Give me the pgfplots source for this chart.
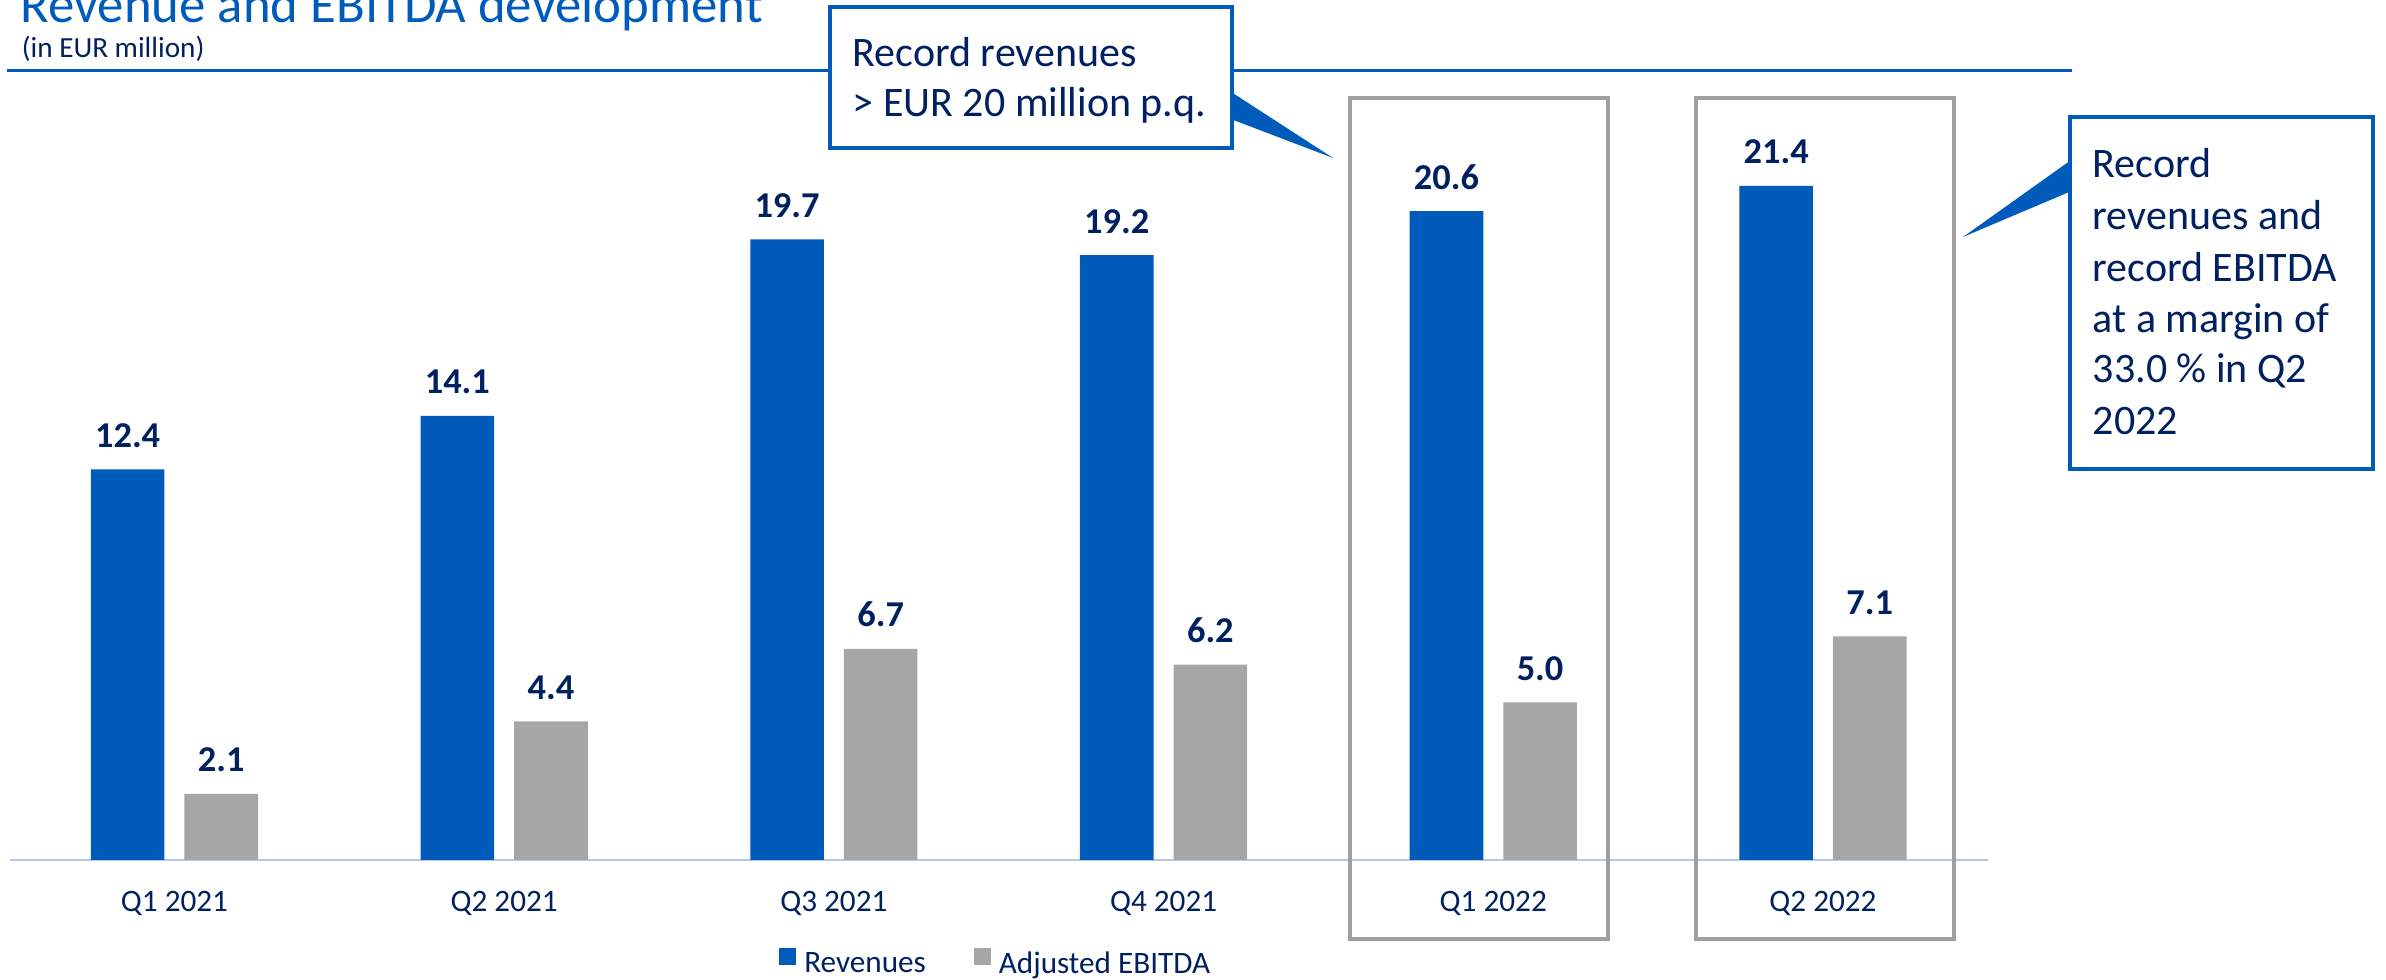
\documentclass[border=0pt]{standalone}
\usepackage{fontspec}
\setmainfont{Carlito}
\usepackage{pgfplots}
\pgfplotsset{compat=1.18}
\definecolor{barblue}{RGB}{0,91,187}
\definecolor{bargray}{RGB}{166,166,166}
\definecolor{navy}{RGB}{0,32,96}
\definecolor{axisline}{RGB}{180,199,231}
\definecolor{boxgray}{RGB}{160,160,160}
\begin{document}
\begin{tikzpicture}
\path[use as bounding box] (0,0) rectangle (596.5pt,245pt);
% header
\begin{scope}[x=0.25pt,y=-0.25pt,yshift=245pt]
\draw[barblue,line width=0.75pt] (7,71) -- (2072,71);
\node[anchor=base west,inner sep=0pt,text=barblue,font=\fontsize{13.2}{15}\selectfont] at (20,23) {Revenue and EBITDA development};
\node[anchor=base west,inner sep=0pt,text=navy,font=\fontsize{7.3}{8}\selectfont] at (21,58) {(in EUR million)};
\end{scope}
\begin{axis}[
  at={(2.4pt,30pt)}, anchor=south west,
  x=82.425pt, y=7.875pt,
  xmin=-0.5, xmax=5.5, ymin=0, ymax=24,
  clip=false,
  axis x line=bottom, axis y line=none,
  x axis line style={-, draw=axisline, line width=0.6pt},
  xtick={0,1,2,3,4,5},
  xticklabels={Q1 2021,Q2 2021,Q3 2021,Q4 2021,Q1 2022,Q2 2022},
  major tick length=0pt,
  xticklabel style={font=\fontsize{7.8}{9}\selectfont, text=navy, anchor=base, inner sep=0pt, yshift=-13pt},
  ybar=5pt, bar width=18.4pt,
  /pgf/number format/assume math mode=true,
  nodes near coords={\pgfmathprintnumber[fixed,fixed zerofill,precision=1]{\pgfplotspointmeta}},
  every node near coord/.append style={font=\bfseries\fontsize{9.1}{11}\selectfont, text=navy, inner sep=0pt, anchor=south, yshift=5.25pt},
  legend columns=2,
  legend style={at={(axis description cs:0.5,-0.14)}, anchor=center, draw=none, fill=none,
    font=\fontsize{7.8}{9}\selectfont, text=navy, inner sep=0pt,
    /tikz/every even column/.append style={column sep=10pt}},
  legend image code/.code={\fill[#1] (0pt,0.2pt) rectangle (4.25pt,4.45pt);},
]
\addplot[fill=barblue, draw=none] coordinates {(0,12.4) (1,14.1) (2,19.7) (3,19.2) (4,20.6) (5,21.4)};
\addlegendentry{Revenues}
\addplot[fill=bargray, draw=none] coordinates {(0,2.1) (1,4.4) (2,6.7) (3,6.2) (4,5.0) (5,7.1)};
\addlegendentry{Adjusted EBITDA}
\end{axis}
\begin{scope}[x=0.25pt,y=-0.25pt,yshift=245pt]
% highlight boxes
\draw[boxgray,line width=1.1pt] (1350,98) rectangle (1608,939);
\draw[boxgray,line width=1.1pt] (1696,98) rectangle (1954,939);
% left callout
\fill[barblue] (1228,90) -- (1333,158) -- (1228,118) -- cycle;
\draw[barblue,line width=0.9pt,fill=white] (830,7) rectangle (1232,148);
\node[anchor=base west,inner sep=0pt,text=navy,font=\fontsize{10.5}{12.5}\selectfont] at (852,67) {Record revenues};
\node[anchor=base west,inner sep=0pt,text=navy,font=\fontsize{10.5}{12.5}\selectfont] at (852,117) {> EUR 20 million p.q.};
% right callout
\fill[barblue] (2074,158) -- (1963,237) -- (2074,190) -- cycle;
\draw[barblue,line width=0.9pt,fill=white] (2070,117) rectangle (2373,469);
\foreach \t/\yy in {Record/178, revenues and/230, record EBITDA/282, at a margin of/333, 33.0 \% in Q2/383, 2022/435}
  \node[anchor=base west,inner sep=0pt,text=navy,font=\fontsize{10.5}{12.5}\selectfont] at (2092,\yy) {\t};
\end{scope}
\end{tikzpicture}
\end{document}
